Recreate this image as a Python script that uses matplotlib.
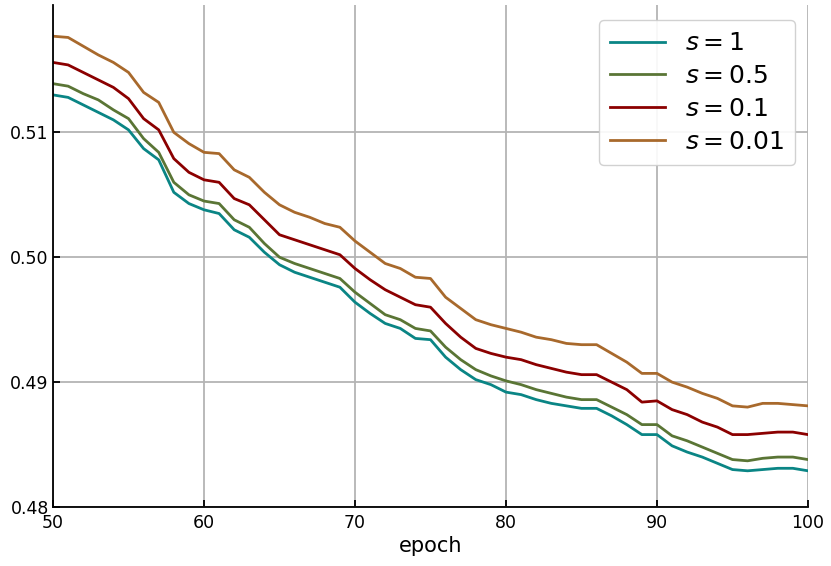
import matplotlib
matplotlib.use("Agg")
import matplotlib.pyplot as plt

# ------------------------------
# Data
# ------------------------------
epochs = list(range(50, 101))

loss_s1 = [0.5130, 0.5128, 0.5122, 0.5116, 0.5110, 0.5102, 0.5087, 0.5078, 0.5052, 0.5043,
           0.5038, 0.5035, 0.5022, 0.5016, 0.5004, 0.4994, 0.4988, 0.4984, 0.4980, 0.4976,
           0.4964, 0.4955, 0.4947, 0.4943, 0.4935, 0.4934, 0.4920, 0.4910, 0.4902, 0.4898,
           0.4892, 0.4890, 0.4886, 0.4883, 0.4881, 0.4879, 0.4879, 0.4873, 0.4866, 0.4858,
           0.4858, 0.4849, 0.4844, 0.4840, 0.4835, 0.4830, 0.4829, 0.4830, 0.4831, 0.4831,
           0.4829]
loss_s05 = [0.5139, 0.5137, 0.5131, 0.5126, 0.5118, 0.5111, 0.5095, 0.5084, 0.5060, 0.5050,
            0.5045, 0.5043, 0.5030, 0.5024, 0.5011, 0.5000, 0.4995, 0.4991, 0.4987, 0.4983,
            0.4972, 0.4963, 0.4954, 0.4950, 0.4943, 0.4941, 0.4928, 0.4918, 0.4910, 0.4905,
            0.4901, 0.4898, 0.4894, 0.4891, 0.4888, 0.4886, 0.4886, 0.4880, 0.4874, 0.4866,
            0.4866, 0.4857, 0.4853, 0.4848, 0.4843, 0.4838, 0.4837, 0.4839, 0.4840, 0.4840,
            0.4838]
loss_s01 = [0.5156, 0.5154, 0.5148, 0.5142, 0.5136, 0.5127, 0.5111, 0.5102, 0.5079, 0.5068,
            0.5062, 0.5060, 0.5047, 0.5042, 0.5030, 0.5018, 0.5014, 0.5010, 0.5006, 0.5002,
            0.4991, 0.4982, 0.4974, 0.4968, 0.4962, 0.4960, 0.4947, 0.4936, 0.4927, 0.4923,
            0.4920, 0.4918, 0.4914, 0.4911, 0.4908, 0.4906, 0.4906, 0.4900, 0.4894, 0.4884,
            0.4885, 0.4878, 0.4874, 0.4868, 0.4864, 0.4858, 0.4858, 0.4859, 0.4860, 0.4860,
            0.4858]
loss_s001 = [0.5177, 0.5176, 0.5169, 0.5162, 0.5156, 0.5148, 0.5132, 0.5124, 0.5100, 0.5091,
             0.5084, 0.5083, 0.5070, 0.5064, 0.5052, 0.5042, 0.5036, 0.5032, 0.5027, 0.5024,
             0.5013, 0.5004, 0.4995, 0.4991, 0.4984, 0.4983, 0.4968, 0.4959, 0.4950, 0.4946,
             0.4943, 0.4940, 0.4936, 0.4934, 0.4931, 0.4930, 0.4930, 0.4923, 0.4916, 0.4907,
             0.4907, 0.4900, 0.4896, 0.4891, 0.4887, 0.4881, 0.4880, 0.4883, 0.4883, 0.4882,
             0.4881]

labels = [r"$s = 1$", r"$s = 0.5$", r"$s = 0.1$", r"$s = 0.01$"]
colors = ["#0a8585", "#5a7535", "#8b0000", "#a8692c"]

xticks = [50, 60, 70, 80, 90, 100]
yticks = [0.48, 0.49, 0.50, 0.51]
ytick_labels = ["0.48", "0.49", "0.50", "0.51"]

# ------------------------------
# Plot
# ------------------------------
plt.rcParams["font.family"] = "DejaVu Sans"
plt.rcParams["mathtext.fontset"] = "dejavusans"

fig = plt.figure(figsize=(8.31, 5.66), dpi=100)
ax = fig.add_axes([0.0638, 0.1042, 0.9085, 0.887])

for ys, lab, col in zip([loss_s1, loss_s05, loss_s01, loss_s001], labels, colors):
    ax.plot(epochs, ys, color=col, lw=2.0, label=lab)

ax.set_xlim(50, 100)
ax.set_ylim(0.48, 0.5202)
ax.set_xticks(xticks)
ax.set_yticks(yticks)
ax.set_yticklabels(ytick_labels)
ax.grid(True, color="#b4b4b4", lw=1.3)
ax.set_axisbelow(True)

for side in ["top", "right"]:
    ax.spines[side].set_visible(False)
for side in ["left", "bottom"]:
    ax.spines[side].set_linewidth(1.3)

ax.tick_params(direction="in", length=5, width=1.3, labelsize=12.5, pad=3)
ax.tick_params(axis="x", pad=5)
ax.set_xlabel("epoch", fontsize=15, labelpad=3)

leg = ax.legend(loc="upper right", fontsize=18, frameon=True, fancybox=True,
                handlelength=2.2, handletextpad=0.8, labelspacing=0.35,
                borderpad=0.45, borderaxespad=0.0, bbox_to_anchor=(0.983, 0.970))
leg.get_frame().set_edgecolor("#cccccc")
leg.get_frame().set_alpha(0.9)

fig.savefig("out.png", dpi=100)
